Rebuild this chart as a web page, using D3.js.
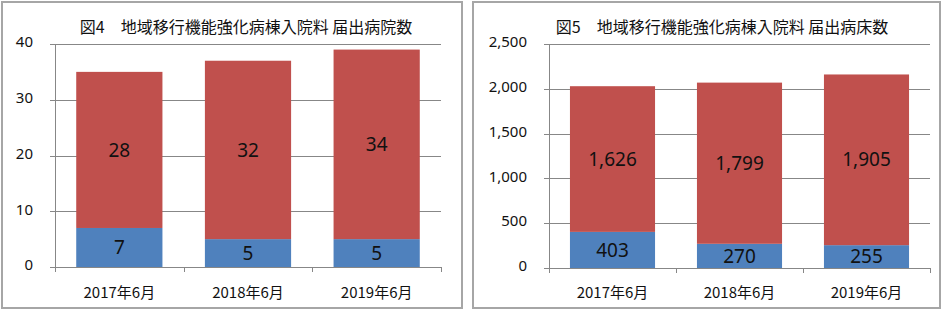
<!DOCTYPE html>
<html>
<head>
<meta charset="utf-8">
<script src="https://cdn.jsdelivr.net/npm/d3@7"></script>
<style>
  body { margin: 0; background: #fff; }
  text { font-family: "Noto Sans", "Noto Sans CJK JP", sans-serif; fill: #111; }
  .title, .cat { font-family: "Noto Sans CJK JP", sans-serif; }
</style>
</head>
<body>
<div id="chart"></div>
<script>
// data
const categories = ["2017年6月", "2018年6月", "2019年6月"];
const hospitalsLower = [7, 5, 5];
const hospitalsUpper = [28, 32, 34];
const hospitalTicks = [0, 10, 20, 30, 40];
const bedsLower = [403, 270, 255];
const bedsUpper = [1626, 1799, 1905];
const bedTicks = [0, 500, 1000, 1500, 2000, 2500];

const blue = "#4F81BD", red = "#C0504D", grid = "#878787";

const svg = d3.select("#chart").append("svg")
    .attr("width", 944)
    .attr("height", 310);

function drawPanel(opts) {
    const g = svg.append("g");

    // frame
    g.append("rect")
        .attr("x", opts.frame[0]).attr("y", opts.frame[1])
        .attr("width", opts.frame[2]).attr("height", opts.frame[3])
        .attr("fill", "none")
        .attr("stroke", "#a6a6a6")
        .attr("stroke-width", 2);

    const xScale = d3.scaleBand()
        .domain(categories)
        .range([opts.left, opts.right])
        .paddingInner(0.33)
        .paddingOuter(0.165);

    const band = d3.scaleBand()
        .domain(categories)
        .range([opts.left, opts.right]);

    const yScale = d3.scaleLinear()
        .domain([0, d3.max(opts.ticks)])
        .range([opts.bottom, opts.top]);

    // gridlines
    g.append("g").selectAll("line")
        .data(opts.ticks)
        .join("line")
        .attr("x1", opts.left - 5)
        .attr("x2", opts.right)
        .attr("y1", d => Math.round(yScale(d)) + 0.5)
        .attr("y2", d => Math.round(yScale(d)) + 0.5)
        .attr("stroke", grid);

    // y axis line
    g.append("line")
        .attr("x1", opts.left + 0.5).attr("x2", opts.left + 0.5)
        .attr("y1", opts.top).attr("y2", opts.bottom + 5)
        .attr("stroke", grid);

    // x ticks at band edges
    const edges = categories.map(c => band(c)).concat([opts.right]);
    g.append("g").selectAll("line")
        .data(edges)
        .join("line")
        .attr("x1", d => Math.round(d) + 0.5)
        .attr("x2", d => Math.round(d) + 0.5)
        .attr("y1", opts.bottom)
        .attr("y2", opts.bottom + 5)
        .attr("stroke", grid);

    // y tick labels
    const fmt = d3.format(",");
    g.append("g").selectAll("text")
        .data(opts.ticks)
        .join("text")
        .attr("x", opts.left - 22)
        .attr("y", d => yScale(d) - 2)
        .attr("dy", "0.35em")
        .attr("text-anchor", "end")
        .attr("font-size", 15)
        .text(fmt);

    // stacked bars
    const rows = categories.map((c, i) => ({ cat: c, lower: opts.lower[i], upper: opts.upper[i] }));
    const stacked = d3.stack().keys(["lower", "upper"])(rows);
    const colors = { lower: blue, upper: red };

    const layer = g.append("g").selectAll("g")
        .data(stacked)
        .join("g")
        .attr("fill", d => colors[d.key]);

    layer.selectAll("rect")
        .data(d => d)
        .join("rect")
        .attr("x", d => xScale(d.data.cat))
        .attr("width", xScale.bandwidth())
        .attr("y", d => yScale(d[1]))
        .attr("height", d => yScale(d[0]) - yScale(d[1]));

    // value labels
    layer.selectAll("text")
        .data(d => d)
        .join("text")
        .attr("x", d => xScale(d.data.cat) + xScale.bandwidth() / 2)
        .attr("y", d => (yScale(d[0]) + yScale(d[1])) / 2)
        .attr("dy", "0.35em")
        .attr("text-anchor", "middle")
        .attr("font-size", 19)
        .style("fill", "#111")
        .text(d => fmt(d[1] - d[0]));

    // category labels
    g.append("g").selectAll("text")
        .data(categories)
        .join("text")
        .attr("class", "cat")
        .attr("x", d => band(d) + band.bandwidth() / 2)
        .attr("y", 293)
        .attr("dy", "0.35em")
        .attr("text-anchor", "middle")
        .attr("font-size", 15)
        .text(d => d);

    // title
    g.append("text")
        .attr("class", "title")
        .attr("x", opts.titleX)
        .attr("y", 27)
        .attr("dy", "0.35em")
        .attr("text-anchor", "middle")
        .attr("font-size", 16)
        .text(opts.title);
}

drawPanel({
    frame: [2, 2, 460, 306],
    left: 55, right: 441, top: 44, bottom: 267,
    ticks: hospitalTicks,
    lower: hospitalsLower, upper: hospitalsUpper,
    title: "図4　地域移行機能強化病棟入院料 届出病院数",
    titleX: 246
});

drawPanel({
    frame: [473, 2, 467, 306],
    left: 549, right: 930, top: 44, bottom: 268,
    ticks: bedTicks,
    lower: bedsLower, upper: bedsUpper,
    title: "図5　地域移行機能強化病棟入院料 届出病床数",
    titleX: 722
});
</script>
</body>
</html>
